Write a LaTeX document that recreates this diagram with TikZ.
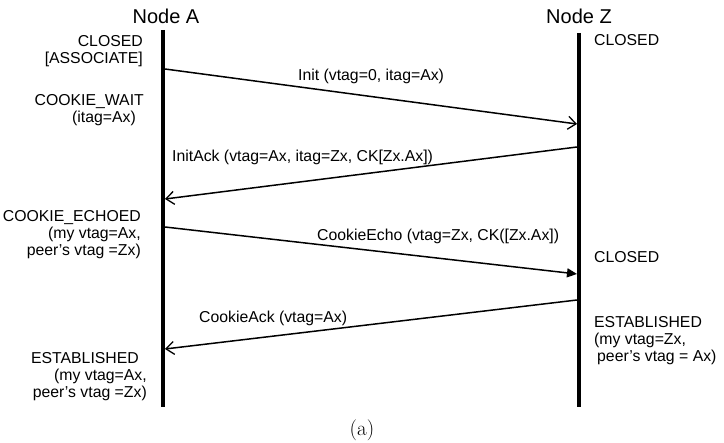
\documentclass[tikz,border=0pt]{standalone}
\usepackage{fontspec}
\setsansfont{Liberation Sans}
\usetikzlibrary{arrows.meta}
\begin{document}
\begin{tikzpicture}[x=1pt,y=-1pt,
  lifeline/.style={line width=4pt},
  msg/.style={line width=1.5pt,-{Straight Barb[length=8pt,width=13pt,line width=1.3pt]}},
  msgfill/.style={line width=1.5pt,-{Triangle[length=10pt,width=9pt]}},
  hdr/.style={font=\sffamily\fontsize{20}{22}\selectfont},
  lbl/.style={font=\sffamily\fontsize{15.8}{17}\selectfont,inner sep=0pt},
  stl/.style={font=\sffamily\fontsize{15.8}{17}\selectfont,inner sep=0pt,align=right,anchor=north east},
  str/.style={font=\sffamily\fontsize{15.8}{17}\selectfont,inner sep=0pt,align=left,anchor=north west}]
\useasboundingbox (0,0) rectangle (724,443);

% participants
\node[hdr] (hA) at (166,16) {Node A};
\node[hdr] (hZ) at (579,16) {Node Z};
\coordinate (At) at (163,30);
\coordinate (Ab) at (163,407);
\coordinate (Zt) at (579,33);
\coordinate (Zb) at (579,407);
\draw[lifeline] (At) -- (Ab);
\draw[lifeline] (Zt) -- (Zb);

% message end points
\coordinate (m1s) at (165,69);
\coordinate (m1e) at (577,124);
\coordinate (m2s) at (577,147);
\coordinate (m2e) at (165,199);
\coordinate (m3s) at (165,227);
\coordinate (m3e) at (577,274);
\coordinate (m4s) at (577,300);
\coordinate (m4e) at (165,349);

\draw[msg] (m1s) -- (m1e);
\draw[msg] (m2s) -- (m2e);
\draw[msgfill] (m3s) -- (m3e);
\draw[msg] (m4s) -- (m4e);

% message labels
\node[lbl,anchor=base west] (l1) at (298,81) {Init (vtag=0, itag=Ax)};
\node[lbl,anchor=base west] (l2) at (172,162) {InitAck (vtag=Ax, itag=Zx, CK[Zx.Ax])};
\node[lbl,anchor=base west] (l3) at (317,241) {CookieEcho (vtag=Zx, CK([Zx.Ax])};
\node[lbl,anchor=base west] (l4) at (199,323) {CookieAck (vtag=Ax)};

% states of node A
\node[stl] (sA1) at (143,35) {CLOSED\\{}[ASSOCIATE]};
\node[stl] (sA2) at (144,94) {COOKIE\_WAIT\\(itag=Ax)\hspace*{8pt}};
\node[stl] (sA3) at (141,210) {COOKIE\_ECHOED\\(my vtag=Ax,\\peer's vtag =Zx)};
\node[stl] (sA4) at (147,352) {ESTABLISHED\hspace*{8pt}\\(my vtag=Ax,\\peer's vtag =Zx)};

% states of node Z
\node[str] (sZ1) at (594,34) {CLOSED};
\node[str] (sZ2) at (594,251) {CLOSED};
\node[str] (sZ3) at (594,316) {ESTABLISHED\\(my vtag=Zx,\\\hspace*{3pt}peer's vtag = Ax)};

% caption
\node[font=\fontsize{21}{24}\selectfont] (cap) at (362,430) {(a)};
\end{tikzpicture}
\end{document}
